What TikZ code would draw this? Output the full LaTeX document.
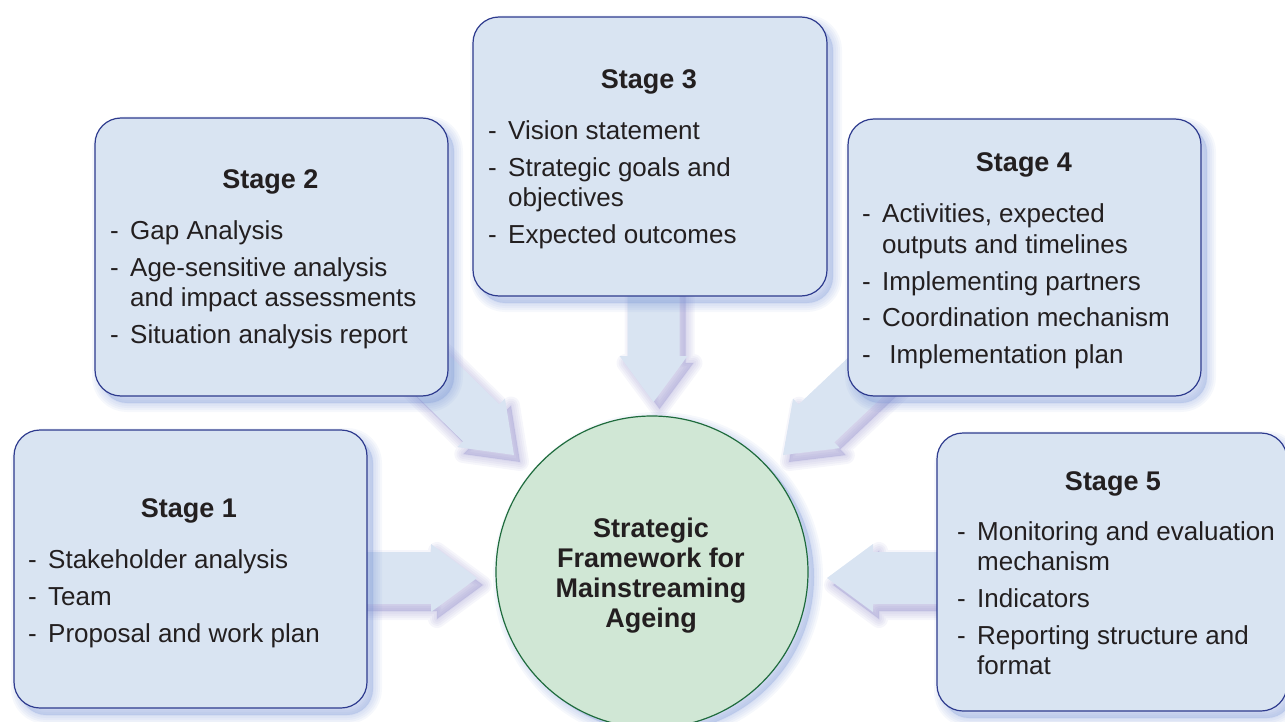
\documentclass[tikz,border=0pt]{standalone}
\usepackage{fontspec}
\setmainfont{Liberation Sans}
\usetikzlibrary{calc}

\definecolor{boxfill}{HTML}{D9E4F2}
\definecolor{boxline}{HTML}{2E3B8E}
\definecolor{discfill}{HTML}{D0E7D5}
\definecolor{discline}{HTML}{1E6B3C}
\definecolor{ink}{HTML}{231F20}
\definecolor{boxshade}{HTML}{7B96D6}
\definecolor{arrowshade}{HTML}{8580C4}

\pgfdeclarelayer{background}
\pgfsetlayers{background,main}

\newcommand\itemdash{\makebox[20pt][l]{-}}

\tikzset{
  shadow ring/.style n args={4}{% colour, xshift, yshift, width
    preaction={draw=#1, fill=none, line width=#4, draw opacity=0.07, line join=round,
               transform canvas={shift={(#2,#3)}}}},
  soft shadow/.style n args={3}{
    shadow ring={#1}{#2}{#3}{18pt},
    shadow ring={#1}{#2}{#3}{14pt},
    shadow ring={#1}{#2}{#3}{10pt},
    shadow ring={#1}{#2}{#3}{6pt},
    shadow ring={#1}{#2}{#3}{2pt},
    preaction={fill=#1, draw=none, fill opacity=0.30,
               transform canvas={shift={(#2,#3)}}},
  },
  stagebox/.style={draw=boxline, line width=1.2pt, fill=boxfill, rounded corners=26pt,
                   inner sep=0pt, soft shadow={boxshade}{6pt}{-7pt}},
  disc/.style={circle, draw=discline, line width=1.2pt, fill=discfill, inner sep=0pt,
               soft shadow={boxshade}{6pt}{-5pt}},
  blockarrow/.style={fill=boxfill, draw=none, soft shadow={arrowshade}{6pt}{-7pt}},
  title/.style={anchor=base, inner sep=0pt, text=ink,
                font=\fontsize{27}{30}\selectfont\bfseries},
  items/.style={anchor=base west, inner sep=0pt, text=ink,
                font=\fontsize{26}{30}\selectfont},
}

% block arrow from #1 (tail) to #2 (tip); #3 names its helper coordinate
\newcommand\blockarrow[3]{%
  \coordinate (#3-hb) at ($(#2)!46pt!(#1)$);
  \path[blockarrow]
    ($(#1)!26pt!90:(#2)$) -- ($(#3-hb)!26pt!90:(#2)$) -- ($(#3-hb)!34pt!90:(#2)$)
    -- (#2)
    -- ($(#3-hb)!34pt!-90:(#2)$) -- ($(#3-hb)!26pt!-90:(#2)$) -- ($(#1)!26pt!-90:(#2)$)
    -- cycle;
}

\begin{document}
\begin{tikzpicture}[x=1pt,y=-1pt]
\useasboundingbox (0,0) rectangle (1285,722);

% stage boxes and the central disc
\node[stagebox, minimum width=353pt, minimum height=278pt] (b1) at (190.5,569) {};
\node[stagebox, minimum width=353pt, minimum height=278pt] (b2) at (271.5,257) {};
\node[stagebox, minimum width=354pt, minimum height=279pt] (b3) at (650,156.5) {};
\node[stagebox, minimum width=353pt, minimum height=277pt] (b4) at (1024.5,257.5) {};
\node[stagebox, minimum width=350pt, minimum height=278pt] (b5) at (1112,572) {};
\node[disc, minimum size=312pt] (core) at (652,572) {};

% arrows from every stage towards the disc
\begin{pgfonlayer}{background}
  \coordinate (t1) at ($(core.center)+(-175,6)$);
  \coordinate (t2) at ($(core.center)+(-138,-117)$);
  \coordinate (t3) at ($(core.center)+(1.5,-170)$);
  \coordinate (t4) at ($(core.center)+(131,-117)$);
  \coordinate (t5) at ($(core.center)+(175,6)$);
  \blockarrow{$(b1.east)+(-10,9)$}{t1}{a1}
  \blockarrow{$(b2.south east)+(-40,-45)$}{t2}{a2}
  \blockarrow{$(b3.south)+(3.5,-10)$}{t3}{a3}
  \blockarrow{$(b4.south west)+(45,-45)$}{t4}{a4}
  \blockarrow{$(b5.west)+(10,6)$}{t5}{a5}
\end{pgfonlayer}

% Stage 1
\node[title] (h1) at (189,517) {Stage 1};
\node[items] (l1) at (28,568) {\begin{tabular}[t]{@{}l@{}l@{}}
  \itemdash & Stakeholder analysis\\[7pt]
  \itemdash & Team\\[7pt]
  \itemdash & Proposal and work plan
\end{tabular}};

% Stage 2
\node[title] (h2) at (270.5,189) {Stage 2};
\node[items] (l2) at (110,240) {\begin{tabular}[t]{@{}l@{}l@{}}
  \itemdash & Gap Analysis\\[7pt]
  \itemdash & Age-sensitive analysis\\
            & and impact assessments\\[7pt]
  \itemdash & Situation analysis report
\end{tabular}};

% Stage 3
\node[title] (h3) at (649,89) {Stage 3};
\node[items] (l3) at (488,140) {\begin{tabular}[t]{@{}l@{}l@{}}
  \itemdash & Vision statement\\[7pt]
  \itemdash & Strategic goals and\\
            & objectives\\[7pt]
  \itemdash & Expected outcomes
\end{tabular}};

% Stage 4
\node[title] (h4) at (1024,172) {Stage 4};
\node[items] (l4) at (862,223) {\begin{tabular}[t]{@{}l@{}l@{}}
  \itemdash & Activities, expected\\
            & outputs and timelines\\[7pt]
  \itemdash & Implementing partners\\[7pt]
  \itemdash & Coordination mechanism\\[7pt]
  \itemdash & \ Implementation plan
\end{tabular}};

% Stage 5
\node[title] (h5) at (1113,490) {Stage 5};
\node[items] (l5) at (957,540) {\begin{tabular}[t]{@{}l@{}l@{}}
  \itemdash & Monitoring and evaluation\\
            & mechanism\\[7pt]
  \itemdash & Indicators\\[7pt]
  \itemdash & Reporting structure and\\
            & format
\end{tabular}};

% centre label
\node[title] (core-label) at (651,537) {\begin{tabular}[t]{@{}c@{}}
  Strategic\\ Framework for\\ Mainstreaming\\ Ageing
\end{tabular}};

\end{tikzpicture}
\end{document}
